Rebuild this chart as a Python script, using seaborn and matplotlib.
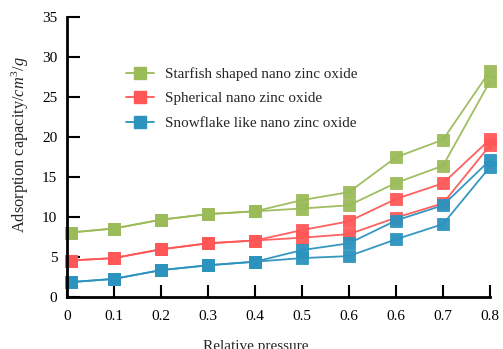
import numpy as np
import pandas as pd
import matplotlib
matplotlib.use("Agg")
import matplotlib.pyplot as plt
from matplotlib.lines import Line2D
import seaborn as sns

# ---------------- data ----------------
tick_labels = ["0", "0.1", "0.2", "0.3", "0.4", "0.5", "0.6", "0.6", "0.7", "0.8"]
x_pos = [0.08, 1, 2, 3, 4, 5, 6, 7, 8, 9]

samples = ["Starfish shaped nano zinc oxide",
           "Spherical nano zinc oxide",
           "Snowflake like nano zinc oxide"]

# adsorption (lower) branches
starfish_ads = [8.0, 8.5, 9.6, 10.3, 10.65, 11.0, 11.4, 14.2, 16.35, 26.9]
spherical_ads = [4.5, 4.8, 5.9, 6.65, 7.0, 7.35, 7.8, 9.85, 11.65, 18.9]
snowflake_ads = [1.8, 2.2, 3.3, 3.9, 4.35, 4.8, 5.05, 7.15, 9.05, 16.2]
# desorption (upper) branches
starfish_des = [8.0, 8.5, 9.6, 10.3, 10.65, 12.05, 13.05, 17.4, 19.6, 28.2]
spherical_des = [4.5, 4.8, 5.9, 6.65, 7.0, 8.3, 9.4, 12.2, 14.15, 19.65]
snowflake_des = [1.8, 2.2, 3.3, 3.9, 4.35, 5.8, 6.65, 9.5, 11.4, 17.05]

colors = ["#9BBB59", "#FF5757", "#2B93BE"]

rows = []
for name, ads, des in zip(samples,
                          [starfish_ads, spherical_ads, snowflake_ads],
                          [starfish_des, spherical_des, snowflake_des]):
    for xi, a, d in zip(x_pos, ads, des):
        rows.append((name, "ads", xi, a))
        rows.append((name, "des", xi, d))
df = pd.DataFrame(rows, columns=["sample", "branch", "x", "value"])

# ---------------- style ----------------
sns.set_style("ticks")
plt.rcParams["font.family"] = ["Liberation Serif", "DejaVu Serif"]
plt.rcParams["mathtext.fontset"] = "custom"
plt.rcParams["mathtext.rm"] = "Liberation Serif"
plt.rcParams["mathtext.it"] = "Liberation Serif:italic"

fig = plt.figure(figsize=(5.03, 3.49), dpi=100)
W, H = 503, 349
ax = fig.add_axes([67 / W, (H - 296.5) / H, (490 - 67) / W, (296.5 - 16.5) / H])

pal = dict(zip(samples, colors))
sns.lineplot(data=df, x="x", y="value", hue="sample", units="branch",
             estimator=None, palette=pal, marker="s", markersize=8.5,
             markeredgewidth=0.6, linewidth=1.3, sort=False, legend=False,
             ax=ax, clip_on=False)
for ln in ax.get_lines():
    ln.set_markeredgecolor(ln.get_color())
    ln.set_alpha(0.95)

ax.set_xlim(0, 9)
ax.set_ylim(0, 35)
ax.set_xticks(range(len(tick_labels)))
ax.set_xticklabels(tick_labels)
ax.set_yticks(np.arange(0, 36, 5))
ax.tick_params(axis="both", direction="in", length=9, width=1.5,
               labelsize=11, colors="black")
ax.tick_params(axis="y", pad=7)
ax.tick_params(axis="x", pad=10)
for s in ["top", "right"]:
    ax.spines[s].set_visible(False)
for s in ["left", "bottom"]:
    ax.spines[s].set_linewidth(2)
    ax.spines[s].set_color("black")

ax.set_xlabel("Relative pressure", fontsize=11)
ax.set_ylabel("Adsorption capacity/$cm^3/g$", fontsize=11.8)
ax.xaxis.set_label_coords(0.4456, -0.155)
ax.yaxis.set_label_coords(-0.085, 0.543)

handles = [Line2D([], [], color=c, marker="s", markersize=8.5, linewidth=1.3,
                  markeredgecolor=c) for c in colors]
fig.legend(handles, samples, loc="center left",
           bbox_to_anchor=(126 / W, (H - 98.5) / H), frameon=False,
           fontsize=10.9, borderpad=0, borderaxespad=0, handlelength=1.85,
           handletextpad=0.7, labelspacing=0.72)

fig.savefig("out.png", dpi=100)
